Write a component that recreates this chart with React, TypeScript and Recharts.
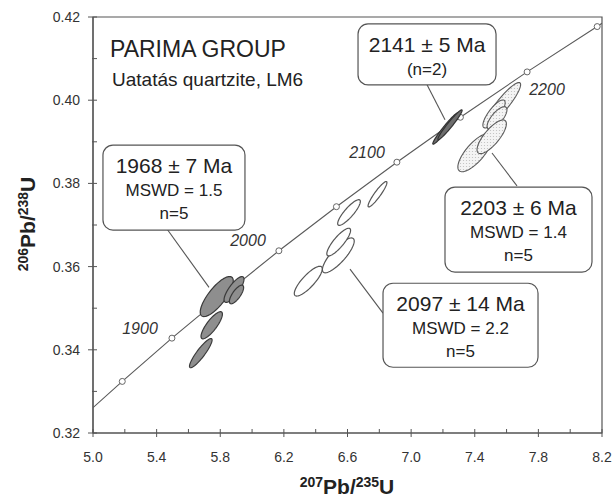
import React from 'react';
import { ScatterChart, Scatter, XAxis, YAxis, ReferenceLine, ReferenceArea } from 'recharts';

// ---------- axis ticks ----------
const xMajorTicks = [5.0, 5.4, 5.8, 6.2, 6.6, 7.0, 7.4, 7.8, 8.2];
const xMinorTicks = [5.2, 5.6, 6.0, 6.4, 6.8, 7.2, 7.6, 8.0];
const yMajorTicks = [0.32, 0.34, 0.36, 0.38, 0.40, 0.42];
const yMinorTicks = [0.33, 0.35, 0.37, 0.39, 0.41];

// ---------- concordia (207Pb/235U, 206Pb/238U) ----------
const concordiaX = [5.0, 5.184, 5.4962, 5.8241, 6.1686, 6.5304, 6.9105, 7.3098, 7.7292, 8.1698, 8.2];
const concordiaY = [0.3261, 0.3324, 0.3428, 0.3532, 0.3638, 0.3744, 0.3851, 0.3959, 0.4068, 0.4177, 0.4185];
// 50 Ma markers 1850 .. 2250
const markerX = [5.184, 5.4962, 5.8241, 6.1686, 6.5304, 6.9105, 7.3098, 7.7292, 8.1698];
const markerY = [0.3324, 0.3428, 0.3532, 0.3638, 0.3744, 0.3851, 0.3959, 0.4068, 0.4177];

// age labels along concordia
const ageLabels = ['1900', '2000', '2100', '2200'];
const ageLabelX = [5.2955, 5.9745, 6.7226, 7.8543];
const ageLabelY = [0.3451, 0.3663, 0.3875, 0.4027];

// ---------- error ellipses: centre (x,y), semi-major vector (ax,ay), semi-minor vector (bx,by) ----------
const group1968 = [
  { x: 5.778, y: 0.3528, ax: 0.0949, ay: 0.00465, bx: 0.0421, by: -0.00126 },
  { x: 5.8865, y: 0.3545, ax: 0.0573, ay: 0.00302, bx: 0.0254, by: -0.00071 },
  { x: 5.9022, y: 0.3533, ax: 0.0397, ay: 0.00217, bx: 0.0206, by: -0.00055 },
  { x: 5.7463, y: 0.3459, ax: 0.0624, ay: 0.00318, bx: 0.0251, by: -0.00073 },
  { x: 5.6777, y: 0.3392, ax: 0.0681, ay: 0.00347, bx: 0.0201, by: -0.00058 },
];
const group2141 = [
  { x: 7.2162, y: 0.3932, ax: 0.0791, ay: 0.00375, bx: 0.0122, by: -0.00038 },
  { x: 7.2444, y: 0.3941, ax: 0.0751, ay: 0.00356, bx: 0.0122, by: -0.00038 },
];
const group2097 = [
  { x: 6.3536, y: 0.3565, ax: 0.0836, ay: 0.00344, bx: 0.0276, by: -0.00099 },
  { x: 6.5422, y: 0.3627, ax: 0.0946, ay: 0.00403, bx: 0.0327, by: -0.00113 },
  { x: 6.5447, y: 0.3659, ax: 0.0707, ay: 0.00323, bx: 0.0241, by: -0.00078 },
  { x: 6.6095, y: 0.373, ax: 0.068, ay: 0.003, bx: 0.0214, by: -0.00071 },
  { x: 6.7886, y: 0.3774, ax: 0.0573, ay: 0.00302, bx: 0.0153, by: -0.00043 },
];
const group2203 = [
  { x: 7.5777, y: 0.3991, ax: 0.1068, ay: 0.00506, bx: 0.0293, by: -0.00091 },
  { x: 7.5211, y: 0.3967, ax: 0.0643, ay: 0.00327, bx: 0.0276, by: -0.0008 },
  { x: 7.54, y: 0.3957, ax: 0.0566, ay: 0.00258, bx: 0.0265, by: -0.00085 },
  { x: 7.4016, y: 0.3874, ax: 0.099, ay: 0.00437, bx: 0.0427, by: -0.00142 },
  { x: 7.5066, y: 0.3912, ax: 0.0849, ay: 0.00388, bx: 0.0361, by: -0.00116 },
];

// ---------- annotation boxes ----------
const boxTexts = [
  ['1968 ± 7 Ma', 'MSWD = 1.5', 'n=5'],
  ['2141 ± 5 Ma', '(n=2)'],
  ['2203 ± 6 Ma', 'MSWD = 1.4', 'n=5'],
  ['2097 ± 14 Ma', 'MSWD = 2.2', 'n=5'],
];
const boxAnchorX = [5.509, 7.1, 7.675, 7.3105];
const boxAnchorY = [0.379, 0.411, 0.3689, 0.3459];
// leader lines [x1, y1, x2, y2]
const leaderX1 = [5.4527, 7.1, 7.5085, 6.6157];
const leaderY1 = [0.3697, 0.4037, 0.3873, 0.3594];
const leaderX2 = [5.7293, 7.213, 7.6656, 6.8232];
const leaderY2 = [0.355, 0.3953, 0.3794, 0.3488];

// ---------- styles ----------
const FONT = '"Liberation Sans", Arial, Helvetica, sans-serif';
const AXIS = '#555';
const boxSizes = [
  { w: 142, h: 85 },
  { w: 138, h: 61 },
  { w: 147, h: 85 },
  { w: 155, h: 84 },
];
const lineOffsets = [28, 51, 74];

const concordiaData = concordiaX.map((x, i) => ({ x, y: concordiaY[i] }));
const markerData = markerX.map((x, i) => ({ x, y: markerY[i] }));
const ageData = ageLabels.map((t, i) => ({ x: ageLabelX[i], y: ageLabelY[i], t }));
const boxData = boxTexts.map((lines, i) => ({ x: boxAnchorX[i], y: boxAnchorY[i], lines, id: i }));

const ellipseOutline = (e: any) =>
  Array.from({ length: 73 }, (_, i) => {
    const t = (i / 72) * 2 * Math.PI;
    return {
      x: e.x + e.ax * Math.cos(t) + e.bx * Math.sin(t),
      y: e.y + e.ay * Math.cos(t) + e.by * Math.sin(t),
    };
  });

const NoShape = () => <g />;

const ellipseLine = (fill: string, stroke: string, sw: number, withPattern = false) => (props: any) => {
  const pts = props.points || [];
  if (!pts.length) return <g />;
  const d = pts.map((p: any, i: number) => `${i ? 'L' : 'M'}${p.x},${p.y}`).join('') + 'Z';
  return (
    <g>
      {withPattern && (
        <defs>
          <pattern id="dotsPat" width="3" height="3" patternUnits="userSpaceOnUse">
            <rect width="3" height="3" fill="#f4f4f4" />
            <circle cx="1.5" cy="1.5" r="0.6" fill="#bdbdbd" />
          </pattern>
        </defs>
      )}
      <path d={d} fill={fill} stroke={stroke} strokeWidth={sw} />
    </g>
  );
};

const concordiaLine = (props: any) => {
  const pts = props.points || [];
  if (!pts.length) return <g />;
  const d = pts.map((p: any, i: number) => `${i ? 'L' : 'M'}${p.x},${p.y}`).join('');
  return <path d={d} fill="none" stroke="#5a5a5a" strokeWidth={1.1} />;
};

const MarkerShape = (props: any) => (
  <circle cx={props.cx} cy={props.cy} r={3} fill="#fff" stroke="#666" strokeWidth={1} />
);

const AgeShape = (props: any) => (
  <text x={props.cx} y={props.cy} dy="0.36em" textAnchor="middle" fontSize={16} fontStyle="italic" fontFamily={FONT} fill="#333">
    {props.payload.t}
  </text>
);

const BoxShape = (props: any) => {
  const { cx, cy, payload } = props;
  const s = boxSizes[payload.id];
  const left = cx - s.w / 2;
  const top = cy - s.h / 2;
  return (
    <g>
      <rect x={left} y={top} width={s.w} height={s.h} rx={10} ry={10} fill="#fff" stroke="#555" strokeWidth={1.2} />
      {payload.lines.map((t: string, i: number) => (
        <text key={i} x={cx} y={top + lineOffsets[i]} textAnchor="middle" fontSize={i === 0 ? 21 : 17} fontFamily={FONT} fill="#222">
          {t}
        </text>
      ))}
    </g>
  );
};

const near = (arr: number[], v: number) => arr.some((m) => Math.abs(m - v) < 1e-6);

const XTick = (props: any) => {
  const { x, y, payload } = props;
  const v = payload.value;
  const major = near(xMajorTicks, v);
  return (
    <g>
      <line x1={x} x2={x} y1={y - 4} y2={major ? y + 4 : y} stroke={AXIS} strokeWidth={1} />
      {major && (
        <text x={x} y={y + 28.5} textAnchor="middle" fontSize={14} fontFamily={FONT} fill="#333">
          {v.toFixed(1)}
        </text>
      )}
    </g>
  );
};

const YTick = (props: any) => {
  const { x, y, payload } = props;
  const v = payload.value;
  const major = near(yMajorTicks, v);
  return (
    <g>
      <line x1={major ? x - 5 : x - 1} x2={x + 4} y1={y} y2={y} stroke={AXIS} strokeWidth={1} />
      {major && (
        <text x={x - 13} y={y} dy="0.36em" textAnchor="end" fontSize={14} fontFamily={FONT} fill="#333">
          {v.toFixed(2)}
        </text>
      )}
    </g>
  );
};

const xTicks = [...xMajorTicks, ...xMinorTicks].sort((a, b) => a - b);
const yTicks = [...yMajorTicks, ...yMinorTicks].sort((a, b) => a - b);

export default function App() {
  return (
    <div style={{ position: 'absolute', left: 0, top: 0, width: 613, height: 497, background: '#fff' }}>
      <ScatterChart width={613} height={497} margin={{ top: 17, right: 11, bottom: 0, left: 0 }}>
        <XAxis
          type="number"
          dataKey="x"
          domain={[5.0, 8.2]}
          allowDataOverflow
          ticks={xTicks}
          interval={0}
          tickLine={false}
          tickSize={0}
          tickMargin={0}
          tick={<XTick />}
          axisLine={{ stroke: AXIS, strokeWidth: 1.2 }}
          height={64}
        />
        <YAxis
          type="number"
          dataKey="y"
          domain={[0.32, 0.42]}
          allowDataOverflow
          ticks={yTicks}
          interval={0}
          tickLine={false}
          tickSize={0}
          tickMargin={0}
          tick={<YTick />}
          axisLine={{ stroke: AXIS, strokeWidth: 1.2 }}
          width={93}
        />
        <ReferenceArea x1={5.0} x2={8.2} y1={0.32} y2={0.42} fill="none" stroke={AXIS} strokeWidth={1.2} ifOverflow="visible" />
        <Scatter data={concordiaData} shape={NoShape} line={concordiaLine} lineType="joint" isAnimationActive={false} />
        <Scatter data={markerData} shape={MarkerShape} isAnimationActive={false} />
        {group1968.map((e, i) => (
          <Scatter key={'a' + i} data={ellipseOutline(e)} shape={NoShape} line={ellipseLine('#8e8e8e', '#3a3a3a', 1.2)} lineType="joint" isAnimationActive={false} />
        ))}
        {group2141.map((e, i) => (
          <Scatter key={'b' + i} data={ellipseOutline(e)} shape={NoShape} line={ellipseLine('#6e6e6e', '#333', 1.2)} lineType="joint" isAnimationActive={false} />
        ))}
        {group2097.map((e, i) => (
          <Scatter key={'c' + i} data={ellipseOutline(e)} shape={NoShape} line={ellipseLine('#fff', '#555', 1.2)} lineType="joint" isAnimationActive={false} />
        ))}
        {group2203.map((e, i) => (
          <Scatter key={'d' + i} data={ellipseOutline(e)} shape={NoShape} line={ellipseLine('url(#dotsPat)', '#5a5a5a', 1.1, true)} lineType="joint" isAnimationActive={false} />
        ))}
        {leaderX1.map((x1, i) => (
          <ReferenceLine
            key={'l' + i}
            segment={[{ x: x1, y: leaderY1[i] }, { x: leaderX2[i], y: leaderY2[i] }]}
            stroke="#555"
            strokeWidth={1.1}
            ifOverflow="visible"
          />
        ))}
        <Scatter data={ageData} shape={AgeShape} isAnimationActive={false} />
        <Scatter data={boxData} shape={BoxShape} isAnimationActive={false} />
      </ScatterChart>
      <svg width={613} height={497} style={{ position: 'absolute', left: 0, top: 0, pointerEvents: 'none' }}>
        <text x={110} y={57} fontSize={23} fontFamily={FONT} fill="#222">PARIMA GROUP</text>
        <text x={112} y={86} fontSize={19} fontFamily={FONT} fill="#222">Uatatás quartzite, LM6</text>
        <text x={347} y={494} textAnchor="middle" fontFamily={FONT} fontWeight="bold" fill="#222">
          <tspan fontSize={14} dy={-7}>207</tspan>
          <tspan fontSize={21} dy={7}>Pb/</tspan>
          <tspan fontSize={14} dy={-7}>235</tspan>
          <tspan fontSize={21} dy={7}>U</tspan>
        </text>
        <text x={35} y={224} textAnchor="middle" transform="rotate(-90 35 224)" fontFamily={FONT} fontWeight="bold" fill="#222">
          <tspan fontSize={14} dy={-7}>206</tspan>
          <tspan fontSize={21} dy={7}>Pb/</tspan>
          <tspan fontSize={14} dy={-7}>238</tspan>
          <tspan fontSize={21} dy={7}>U</tspan>
        </text>
      </svg>
    </div>
  );
}
